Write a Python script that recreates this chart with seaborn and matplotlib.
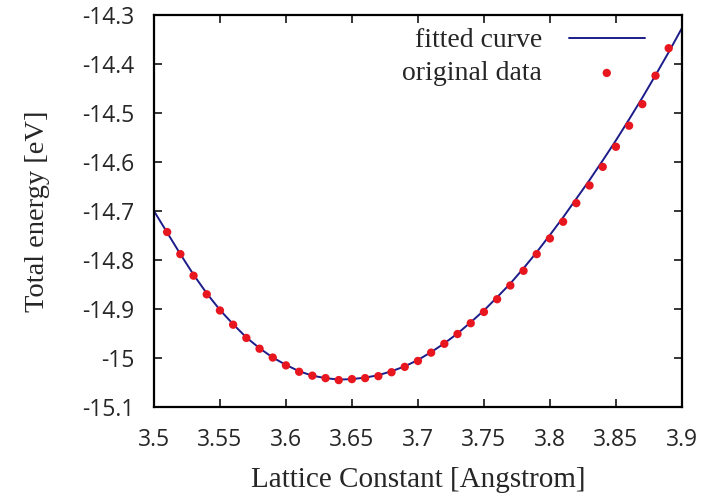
import numpy as np
import pandas as pd
import matplotlib
matplotlib.use("Agg")
import matplotlib.pyplot as plt
import seaborn as sns

# original data points (lattice constant vs total energy)
lattice = [3.51, 3.52, 3.53, 3.54, 3.55, 3.56, 3.57, 3.58, 3.59, 3.60,
           3.61, 3.62, 3.63, 3.64, 3.65, 3.66, 3.67, 3.68, 3.69, 3.70,
           3.71, 3.72, 3.73, 3.74, 3.75, 3.76, 3.77, 3.78, 3.79, 3.80,
           3.81, 3.82, 3.83, 3.84, 3.85, 3.86, 3.87, 3.88, 3.89]
energy = [-14.743, -14.788, -14.832, -14.870, -14.903, -14.932, -14.959, -14.981, -14.999, -15.015,
          -15.028, -15.036, -15.041, -15.045, -15.043, -15.041, -15.037, -15.029, -15.018, -15.006,
          -14.989, -14.971, -14.951, -14.929, -14.906, -14.880, -14.852, -14.822, -14.788, -14.756,
          -14.722, -14.684, -14.648, -14.610, -14.569, -14.526, -14.482, -14.424, -14.368]

# fitted curve
fit_x = [3.50, 3.51, 3.52, 3.53, 3.54, 3.55, 3.56, 3.57, 3.58, 3.59, 3.60, 3.61, 3.62, 3.63, 3.64,
         3.65, 3.66, 3.67, 3.68, 3.69, 3.70, 3.71, 3.72, 3.73, 3.74, 3.75, 3.76, 3.77, 3.78, 3.79,
         3.80, 3.81, 3.82, 3.83, 3.84, 3.85, 3.86, 3.87, 3.88, 3.89, 3.90]
fit_y = [-14.700, -14.744, -14.788, -14.830, -14.868, -14.902, -14.931, -14.958, -14.980, -14.999,
         -15.014, -15.027, -15.036, -15.041, -15.044, -15.043, -15.040, -15.035, -15.027, -15.017,
         -15.004, -14.988, -14.970, -14.950, -14.927, -14.903, -14.876, -14.848, -14.817, -14.784,
         -14.749, -14.713, -14.675, -14.637, -14.597, -14.556, -14.513, -14.469, -14.423, -14.376,
         -14.327]

xticks = [3.5, 3.55, 3.6, 3.65, 3.7, 3.75, 3.8, 3.85, 3.9]
yticks = [-15.1, -15.0, -14.9, -14.8, -14.7, -14.6, -14.5, -14.4, -14.3]
ytick_labels = ["-15.1", "-15", "-14.9", "-14.8", "-14.7", "-14.6", "-14.5", "-14.4", "-14.3"]

sns.set_style("ticks")
plt.rcParams["font.family"] = ["Open Sans", "DejaVu Sans"]

fig = plt.figure(figsize=(7.03, 4.97), dpi=100)
ax = fig.add_axes([0.219, 0.181, 0.751, 0.789])

fit_df = pd.DataFrame({"x": fit_x, "y": fit_y})
data_df = pd.DataFrame({"x": lattice, "y": energy})

sns.lineplot(data=fit_df, x="x", y="y", ax=ax, color="#1c1c8a", linewidth=1.4,
             label="fitted curve", zorder=2)
sns.scatterplot(data=data_df, x="x", y="y", ax=ax, color="#e8161e", s=36,
                edgecolor="none", label="original data", zorder=3)

ax.set_xlim(3.5, 3.9)
ax.set_ylim(-15.1, -14.3)
ax.set_xticks(xticks)
ax.set_xticklabels([f"{t:g}" for t in xticks])
ax.set_yticks(yticks)
ax.set_yticklabels(ytick_labels)
ax.tick_params(direction="in", length=6, width=1.3, top=True, right=True,
               labelsize=16.5)
ax.tick_params(axis="x", pad=15)
ax.tick_params(axis="y", pad=14)
for sp in ax.spines.values():
    sp.set_linewidth(1.6)
    sp.set_color("black")

serif = ["Liberation Serif", "DejaVu Serif"]
ax.set_xlabel("Lattice Constant [Angstrom]", fontsize=21, family=serif, labelpad=11)
ax.set_ylabel("Total energy [eV]", fontsize=20.5, family=serif, labelpad=23)

leg = ax.legend(loc="upper right", frameon=False, markerfirst=False,
                prop={"family": serif, "size": 20}, handlelength=2.75,
                borderaxespad=0, borderpad=0, labelspacing=0.27, handletextpad=0.95,
                bbox_to_anchor=(0.93, 0.967))

fig.savefig("out.png", dpi=100)
